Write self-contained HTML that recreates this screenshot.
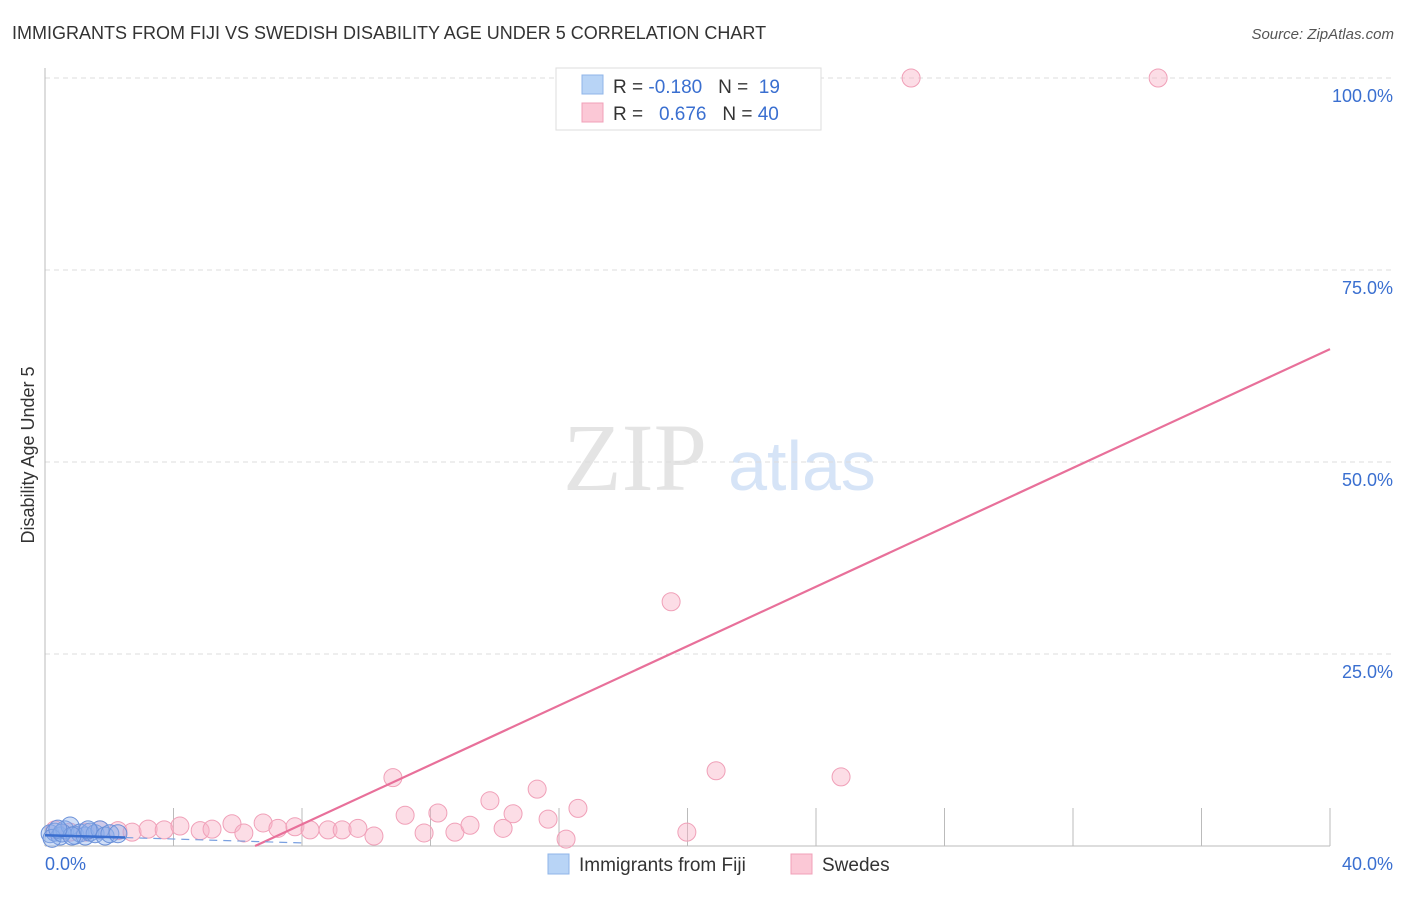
<!DOCTYPE html>
<html><head><meta charset="utf-8"><style>
body{margin:0;background:#fff;font-family:"Liberation Sans",sans-serif}
</style></head><body>
<svg width="1406" height="892" xmlns="http://www.w3.org/2000/svg">
<text x="12" y="39" font-size="18" fill="#333">IMMIGRANTS FROM FIJI VS SWEDISH DISABILITY AGE UNDER 5 CORRELATION CHART</text>
<text x="1394" y="39" font-size="15" fill="#555" font-style="italic" text-anchor="end">Source: ZipAtlas.com</text>
<g>
<text x="635" y="490" font-size="96" font-family="Liberation Serif,serif" fill="#e4e4e4" text-anchor="middle">ZIP</text>
<text x="802" y="490" font-size="70" fill="#d6e4f7" text-anchor="middle">atlas</text>
</g>
<g id="grid"></g>
<g id="axes"></g>
<g id="marks"></g>
<text transform="translate(34,455) rotate(-90)" font-size="18" fill="#333" text-anchor="middle">Disability Age Under 5</text>
<g>
<rect x="556" y="68" width="265" height="62" fill="#fff" stroke="#ddd"/>
<rect x="582" y="75" width="21" height="19" fill="#b8d4f6" stroke="#8fb5e8"/>
<rect x="582" y="103" width="21" height="19" fill="#fbc8d6" stroke="#f0a0b8"/>
<text x="613" y="93" font-size="19" fill="#333" xml:space="preserve">R = <tspan fill="#3a6fd0">-0.180</tspan>   N =  <tspan fill="#3a6fd0">19</tspan></text>
<text x="613" y="120" font-size="19" fill="#333" xml:space="preserve">R =   <tspan fill="#3a6fd0">0.676</tspan>   N = <tspan fill="#3a6fd0">40</tspan></text>
</g>
<g>
<rect x="548" y="854" width="21" height="20" fill="#b8d4f6" stroke="#8fb5e8"/>
<text x="579" y="871" font-size="19" fill="#333">Immigrants from Fiji</text>
<rect x="791" y="854" width="21" height="20" fill="#fbc8d6" stroke="#f0a0b8"/>
<text x="822" y="871" font-size="19" fill="#333">Swedes</text>
</g>
</svg>
<script>
const yTicks=[25,50,75,100];
const yTickLabels=["25.0%","50.0%","75.0%","100.0%"];
const xTickVals=[4,8,12,16,20,24,28,32,36,40];
const pinkX=[0.31,0.78,1.25,1.71,2.27,2.71,3.21,3.71,4.20,4.83,5.20,5.82,6.19,6.79,7.25,7.78,8.25,8.81,9.25,9.74,10.24,10.83,11.21,11.80,12.23,12.76,13.23,13.85,14.26,14.57,15.32,15.66,16.22,16.59,19.49,19.98,20.89,24.78,26.96,34.65];
const pinkY=[2.1,1.8,1.8,2.1,2.0,1.8,2.2,2.1,2.6,2.0,2.2,2.9,1.7,3.0,2.3,2.5,2.1,2.1,2.1,2.3,1.3,8.9,4.0,1.7,4.3,1.8,2.7,5.9,2.3,4.2,7.4,3.5,0.9,4.9,31.8,1.8,9.8,9.0,100,100];
const blueX=[0.16,0.31,0.47,0.62,0.78,0.93,1.09,1.25,1.40,1.56,1.71,1.87,0.22,0.53,0.84,1.34,2.02,2.27,0.40];
const blueY=[1.6,1.8,1.3,2.1,2.6,1.4,1.7,1.3,1.8,1.6,2.1,1.3,1.0,1.7,1.3,2.1,1.6,1.6,2.2];
const pinkLine=[[6.54,0],[40,64.7]];
const blueLine=[[0,1.4],[2.5,1.1],[8,0.4]];
const X=v=>45+v*32.125, Y=v=>846-v*7.68;
const NS="http://www.w3.org/2000/svg";
function mk(p,t,a){const e=document.createElementNS(NS,t);for(const k in a)e.setAttribute(k,a[k]);document.getElementById(p).appendChild(e);return e;}
yTicks.forEach((t,i)=>{
 const l=mk('grid','line',{x1:45,x2:1395,y1:Y(t),y2:Y(t),stroke:'#ddd','stroke-dasharray':'5,4'});
 
 
 const tx=mk('grid','text',{x:1393,y:Y(t)+24,'font-size':18,fill:'#3a6fd0','text-anchor':'end'});
 tx.textContent=yTickLabels[i];
 
 
});
xTickVals.forEach(t=>{
 const l=mk('axes','line',{x1:X(t),x2:X(t),y1:808,y2:846,stroke:'#bbb'});
 
 
});
let a=mk('axes','line',{x1:45,x2:45,y1:68,y2:846,stroke:'#bbb'});


a=mk('axes','line',{x1:45,x2:1330,y1:846,y2:846,stroke:'#bbb'});


let t=mk('axes','text',{x:45,y:870,'font-size':18,fill:'#3a6fd0'});t.textContent='0.0%';


t=mk('axes','text',{x:1393,y:870,'font-size':18,fill:'#3a6fd0','text-anchor':'end'});t.textContent='40.0%';


pinkX.forEach((x,i)=>{
 const c=mk('marks','circle',{cx:X(x),cy:Y(pinkY[i]),r:9,fill:'rgba(248,180,200,0.45)',stroke:'#f0a0b8','stroke-width':1});
 
 
});
blueX.forEach((x,i)=>{
 const c=mk('marks','circle',{cx:X(x),cy:Y(blueY[i]),r:9,fill:'rgba(140,175,235,0.4)',stroke:'#6a90d8','stroke-width':1});
 
 
});
let l=mk('marks','line',{x1:X(pinkLine[0][0]),y1:Y(pinkLine[0][1]),x2:X(pinkLine[1][0]),y2:Y(pinkLine[1][1]),stroke:'#e8709a','stroke-width':2.2});


l=mk('marks','line',{x1:X(blueLine[0][0]),y1:Y(blueLine[0][1]),x2:X(blueLine[1][0]),y2:Y(blueLine[1][1]),stroke:'#3a6fd0','stroke-width':2.5});


l=mk('marks','line',{x1:X(blueLine[1][0]),y1:Y(blueLine[1][1]),x2:X(blueLine[2][0]),y2:Y(blueLine[2][1]),stroke:'#7aa0e0','stroke-width':1.2,'stroke-dasharray':'8,6'});


</script>
</body></html>
